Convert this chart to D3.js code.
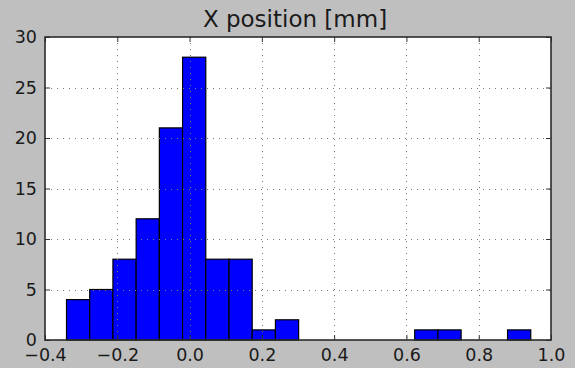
<!DOCTYPE html>
<html>
<head>
<meta charset="utf-8">
<script src="https://cdn.jsdelivr.net/npm/d3@7"></script>
<style>
  html, body { margin: 0; padding: 0; background: #bfbfbf; }
  svg { display: block; }
  text { font-family: "DejaVu Sans", sans-serif; fill: #1a1a1a; }
</style>
</head>
<body>
<svg id="chart" width="575" height="368"></svg>
<script>
// Histogram data
const titleText = "X position [mm]";
const counts = [4, 5, 8, 12, 21, 28, 8, 8, 1, 2, 0, 0, 0, 0, 0, 1, 1, 0, 0, 1];
const dataRange = [-0.3405, 0.944];
const xTicks = [-0.4, -0.2, 0.0, 0.2, 0.4, 0.6, 0.8, 1.0];
const yTicks = [0, 5, 10, 15, 20, 25, 30];
const xDomain = [-0.4, 1.0];
const yDomain = [0, 30];

const binW = (dataRange[1] - dataRange[0]) / counts.length;
const bins = counts.map((c, i) => ({ x0: dataRange[0] + i * binW, x1: dataRange[0] + (i + 1) * binW, count: c }));

const svg = d3.select("#chart");
const mL = 45, mR = 551, mT = 37, mB = 340;

const x = d3.scaleLinear().domain(xDomain).range([mL, mR]);
const y = d3.scaleLinear().domain(yDomain).range([mB, mT]);

// plot background
svg.append("rect").attr("x", mL).attr("y", mT)
  .attr("width", mR - mL).attr("height", mB - mT).attr("fill", "#ffffff");

// bars
svg.append("g").selectAll("rect").data(bins.filter(d => d.count > 0)).join("rect")
  .attr("x", d => x(d.x0)).attr("y", d => y(d.count))
  .attr("width", d => x(d.x1) - x(d.x0)).attr("height", d => y(0) - y(d.count))
  .attr("fill", "#0000ff").attr("stroke", "#000").attr("stroke-width", 1.2);

// grid (drawn above bars)
const grid = svg.append("g").attr("stroke", "#7a7a7a").attr("stroke-width", 1).attr("stroke-dasharray", "1,5");
grid.selectAll(".gx").data(xTicks.slice(1, -1)).join("line")
  .attr("x1", d => Math.round(x(d)) + 0.5).attr("x2", d => Math.round(x(d)) + 0.5)
  .attr("y1", mT).attr("y2", mB);
grid.selectAll(".gy").data(yTicks.slice(1, -1)).join("line")
  .attr("y1", d => Math.round(y(d)) + 0.5).attr("y2", d => Math.round(y(d)) + 0.5)
  .attr("x1", mL).attr("x2", mR);

// axes with inward ticks
const fmtX = d => d3.format(".1f")(d).replace("-", "\u2212");
const xAxisB = d3.axisBottom(x).tickValues(xTicks).tickSizeInner(-5).tickSizeOuter(0).tickPadding(9).tickFormat(fmtX);
const xAxisT = d3.axisTop(x).tickValues(xTicks).tickSizeInner(-5).tickSizeOuter(0).tickFormat("");
const yAxisL = d3.axisLeft(y).tickValues(yTicks).tickSizeInner(-5).tickSizeOuter(0).tickPadding(8).tickFormat(d3.format("d"));
const yAxisR = d3.axisRight(y).tickValues(yTicks).tickSizeInner(-5).tickSizeOuter(0).tickFormat("");

function styleAxis(g) {
  g.select(".domain").remove();
  g.selectAll(".tick line").attr("stroke", "#333").attr("stroke-width", 1);
  g.selectAll("text").attr("font-size", 17.5).attr("fill", "#1a1a1a");
}
svg.append("g").attr("transform", `translate(0,${mB})`).call(xAxisB).call(styleAxis);
svg.append("g").attr("transform", `translate(0,${mT})`).call(xAxisT).call(styleAxis);
svg.append("g").attr("transform", `translate(${mL},0)`).call(yAxisL).call(styleAxis);
svg.append("g").attr("transform", `translate(${mR},0)`).call(yAxisR).call(styleAxis);

// frame
svg.append("rect").attr("x", mL).attr("y", mT)
  .attr("width", mR - mL).attr("height", mB - mT)
  .attr("fill", "none").attr("stroke", "#2b2b2b").attr("stroke-width", 1.6);

// title
svg.append("text").attr("x", 295).attr("y", 27)
  .attr("text-anchor", "middle").attr("font-size", 23).text(titleText);
</script>
</body>
</html>
